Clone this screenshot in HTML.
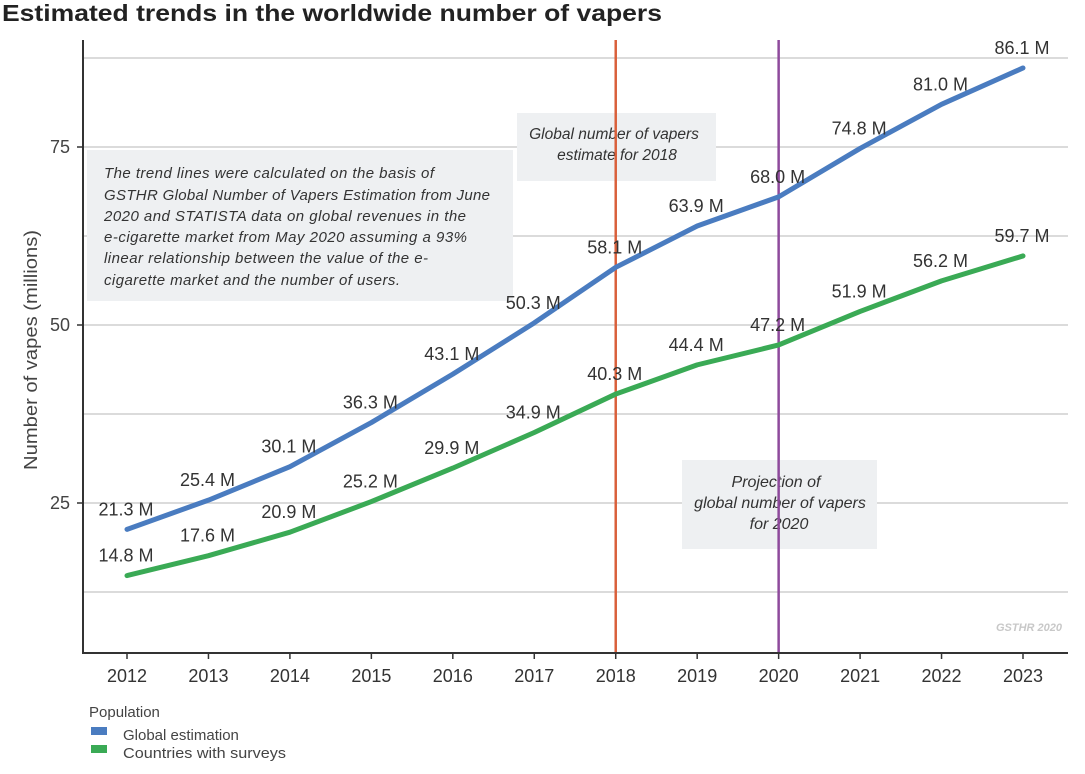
<!DOCTYPE html>
<html><head><meta charset="utf-8">
<style>
body{margin:0;background:#fff;width:1085px;height:769px;overflow:hidden;font-family:"Liberation Sans",sans-serif;}
svg text{font-family:"Liberation Sans",sans-serif;}
</style></head>
<body>
<svg width="1085" height="769" viewBox="0 0 1085 769">
<text x="2" y="21" font-size="23" font-weight="bold" fill="#222" textLength="660" lengthAdjust="spacingAndGlyphs">Estimated trends in the worldwide number of vapers</text>
<g id="grid"></g>
<rect x="87" y="150" width="426" height="151" fill="#eef0f2"/>
<text font-size="15" font-style="italic" fill="#333" lengthAdjust="spacingAndGlyphs">
<tspan x="104" y="178" textLength="330">The trend lines were calculated on the basis of</tspan>
<tspan x="104" y="200" textLength="386">GSTHR Global Number of Vapers Estimation from June</tspan>
<tspan x="104" y="221" textLength="362">2020 and STATISTA data on global revenues in the</tspan>
<tspan x="104" y="242" textLength="363">e-cigarette market from May 2020 assuming a 93%</tspan>
<tspan x="104" y="263" textLength="324">linear relationship between the value of the e-</tspan>
<tspan x="104" y="285" textLength="296">cigarette market and the number of users.</tspan>
</text>
<rect x="517" y="113" width="199" height="68" fill="#eef0f2"/>
<text font-size="15.5" font-style="italic" fill="#333" text-anchor="middle"><tspan x="614" y="139">Global number of vapers</tspan><tspan x="617" y="160">estimate for 2018</tspan></text>
<rect x="682" y="460" width="195" height="89" fill="#eef0f2"/>
<text font-size="16" font-style="italic" fill="#333" text-anchor="middle"><tspan x="776" y="487">Projection of</tspan><tspan x="780" y="508">global number of vapers</tspan><tspan x="779" y="529">for 2020</tspan></text>
<g id="vlines"></g>
<g id="series"></g>
<g id="labels"></g>
<line x1="83" y1="40" x2="83" y2="654" stroke="#333" stroke-width="2"/>
<line x1="82" y1="653" x2="1068" y2="653" stroke="#333" stroke-width="2"/>
<g id="ticks"></g>
<text transform="translate(37,350) rotate(-90)" font-size="18" fill="#444" text-anchor="middle" textLength="240" lengthAdjust="spacingAndGlyphs">Number of vapes (millions)</text>
<text x="1062" y="631" font-size="11" font-weight="bold" font-style="italic" fill="#c8c8c8" text-anchor="end">GSTHR 2020</text>
<text x="89" y="717" font-size="15" fill="#444">Population</text>
<rect x="91" y="727" width="16" height="8" fill="#4a7cc0"/>
<text x="123" y="740" font-size="15" fill="#444">Global estimation</text>
<rect x="91" y="745" width="16" height="8" fill="#3aaa55"/>
<text x="123" y="758" font-size="15" fill="#444" textLength="163" lengthAdjust="spacingAndGlyphs">Countries with surveys</text>
</svg>
<script>
const years=[2012,2013,2014,2015,2016,2017,2018,2019,2020,2021,2022,2023];
const globalVals=[21.3,25.4,30.1,36.3,43.1,50.3,58.1,63.9,68.0,74.8,81.0,86.1];
const surveyVals=[14.8,17.6,20.9,25.2,29.9,34.9,40.3,44.4,47.2,51.9,56.2,59.7];
const yTicks=[25,50,75];
const gridVals=[12.5,25,37.5,50,62.5,75,87.5];
const markerYears=[2018,2020];
const NS='http://www.w3.org/2000/svg';
function xs(y){return 127+(y-2012)*(1023-127)/11;}
function ys(v){return 681-v*7.12;}
function mk(tag,attrs,parent,text){const e=document.createElementNS(NS,tag);for(const k in attrs)e.setAttribute(k,attrs[k]);if(text!=null)e.textContent=text;document.getElementById(parent).appendChild(e);return e;}
gridVals.forEach(v=>{const e=mk('line',{x1:83,x2:1068,y1:ys(v),y2:ys(v),stroke:'#cfcfcf','stroke-width':1.5},'grid');

});
yTicks.forEach(v=>{const t=mk('text',{x:70,y:ys(v)+6,'font-size':18,fill:'#444','text-anchor':'end'},'ticks',String(v));


const l=mk('line',{x1:77,x2:83,y1:ys(v),y2:ys(v),stroke:'#333','stroke-width':1.5},'ticks');

});
years.forEach(y=>{const t=mk('text',{x:xs(y),y:682,'font-size':18,fill:'#333','text-anchor':'middle'},'ticks',String(y));


const l=mk('line',{x1:xs(y),x2:xs(y),y1:653,y2:659,stroke:'#333','stroke-width':1.5},'ticks');

});
const mcol=['#d9603b','#8e4a9c'];
markerYears.forEach((y,i)=>{const l=mk('line',{x1:xs(y),x2:xs(y),y1:40,y2:653,stroke:mcol[i],'stroke-width':2.5},'vlines');

});
function drawSeries(vals,color,name){
const d=vals.map((v,i)=>(i?'L':'M')+xs(years[i])+' '+ys(v)).join(' ');
const p=mk('path',{d:d,fill:'none',stroke:color,'stroke-width':5,'stroke-linejoin':'round','stroke-linecap':'round'},'series');


vals.forEach((v,i)=>{const t=mk('text',{x:xs(years[i])-1,y:ys(v)-14,'font-size':18,fill:'#333','text-anchor':'middle'},'labels',v.toFixed(1)+' M');

});
}
drawSeries(globalVals,'#4a7cc0','global-estimation');
drawSeries(surveyVals,'#3aaa55','countries-with-surveys');
</script>
</body></html>
